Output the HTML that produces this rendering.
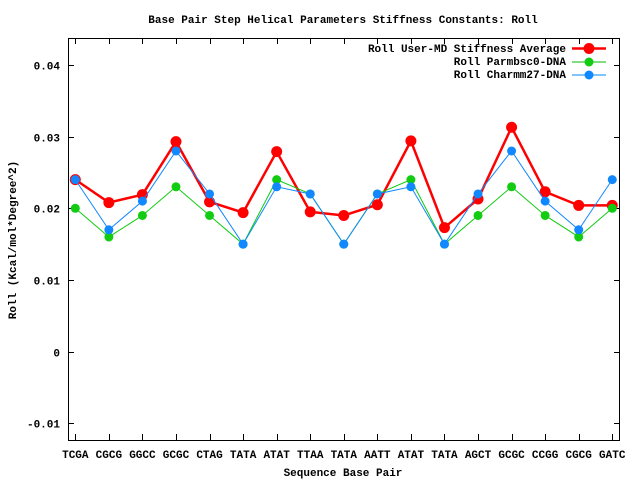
<!DOCTYPE html>
<html><head><style>body{margin:0;background:#fff}svg{display:block}text{font-family:"Liberation Mono",monospace;font-size:11px;font-weight:bold;fill:#000}</style></head><body>
<svg width="640" height="480" viewBox="0 0 640 480" id="s">
<rect x="68.5" y="38.5" width="551" height="402" fill="none" stroke="#000" stroke-width="1"/>
<g id="g"></g>
<text x="343" y="23" text-anchor="middle">Base Pair Step Helical Parameters Stiffness Constants: Roll</text>
<text x="343" y="476" text-anchor="middle">Sequence Base Pair</text>
<text transform="translate(16,240) rotate(-90)" text-anchor="middle">Roll (Kcal/mol*Degree^2)</text>
<text x="566" y="52" text-anchor="end">Roll User-MD Stiffness Average</text>
<text x="566" y="65" text-anchor="end">Roll Parmbsc0-DNA</text>
<text x="566" y="78" text-anchor="end">Roll Charmm27-DNA</text>
<line x1="572" y1="48.5" x2="606" y2="48.5" stroke="#f00" stroke-width="2.5"/><circle cx="589" cy="48.5" r="5.5" fill="#f00"/>
<line x1="572" y1="62" x2="606" y2="62" stroke="#0b0" stroke-width="1"/><circle cx="589" cy="62" r="4.5" fill="#1c1"/>
<line x1="572" y1="75" x2="606" y2="75" stroke="#08f" stroke-width="1"/><circle cx="589" cy="75" r="4.5" fill="#18f"/>
</svg>
<script>
var ns="http://www.w3.org/2000/svg",g=document.getElementById("g");
function el(t,a,txt){var e=document.createElementNS(ns,t);for(var k in a)e.setAttribute(k,a[k]);if(txt)e.textContent=txt;g.appendChild(e);return e;}
function Y(v){return 208.3-(v-0.02)*7170;}
function X(i){return 75.3+i*33.56;}
var yt=[[0.04,"0.04"],[0.03,"0.03"],[0.02,"0.02"],[0.01,"0.01"],[0,"0"],[-0.01,"-0.01"]];
yt.forEach(function(t){var y=Math.round(Y(t[0]))+0.5;el("line",{x1:68,y1:y,x2:74,y2:y,stroke:"#000"});el("line",{x1:614,y1:y,x2:620,y2:y,stroke:"#000"});el("text",{x:60,y:y+4,"text-anchor":"end"},t[1]);});
var lab="TCGA CGCG GGCC GCGC CTAG TATA ATAT TTAA TATA AATT ATAT TATA AGCT GCGC CCGG CGCG GATC".split(" ");
lab.forEach(function(l,i){var x=Math.round(X(i))+0.5;el("line",{x1:x,y1:440,x2:x,y2:434,stroke:"#000"});el("line",{x1:x,y1:38,x2:x,y2:44,stroke:"#000"});el("text",{x:X(i),y:458,"text-anchor":"middle"},l);});
var R=[.024,.0208,.0219,.0293,.0209,.0194,.0279,.0195,.019,.0205,.0294,.0173,.0213,.0313,.0223,.0204,.0204];
var G=[.020,.016,.019,.023,.019,.015,.024,.022,.015,.022,.024,.015,.019,.023,.019,.016,.020];
var B=[.024,.017,.021,.028,.022,.015,.023,.022,.015,.022,.023,.015,.022,.028,.021,.017,.024];
function ser(d,c,w,r){el("polyline",{points:d.map(function(v,i){return X(i)+","+Y(v)}).join(" "),fill:"none",stroke:c,"stroke-width":w});d.forEach(function(v,i){el("circle",{cx:X(i),cy:Y(v),r:r,fill:c});});}
ser(R,"#f00",2.5,5.5);ser(G,"#1c1",1,4.5);ser(B,"#18f",1,4.5);
</script>
</body></html>
